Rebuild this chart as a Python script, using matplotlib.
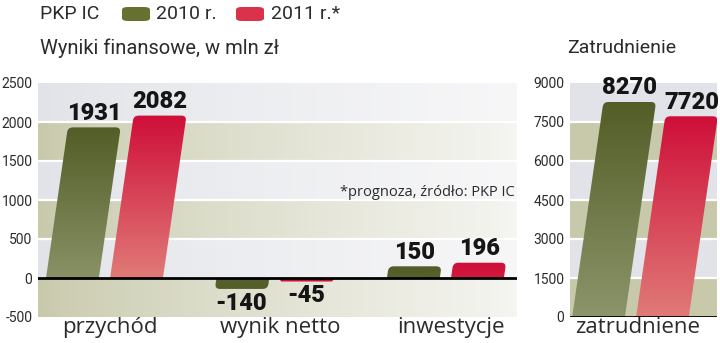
import matplotlib
matplotlib.use("Agg")
import matplotlib.pyplot as plt
import numpy as np
from matplotlib.path import Path
from matplotlib.patches import PathPatch, FancyBboxPatch
from matplotlib.colors import to_rgb

# ── Data ──────────────────────────────────────────────────────────────────────
categories = ["przychód", "wynik netto", "inwestycje"]
fin_2010 = [1931, -140, 150]
fin_2011 = [2082, -45, 196]
fin_ticks = [-500, 0, 500, 1000, 1500, 2000, 2500]

emp_categories = ["zatrudniene"]
emp_2010 = [8270]
emp_2011 = [7720]
emp_ticks = [0, 1500, 3000, 4500, 6000, 7500, 9000]

# ── Style ─────────────────────────────────────────────────────────────────────
LIGHT = ["Roboto", "DejaVu Sans"]
WIDE = ["Open Sans", "DejaVu Sans"]
BOLD = ["Roboto", "DejaVu Sans"]
TXT = "#2b2b2b"
OLIVE_TOP, OLIVE_BOT = "#535d27", "#8c956a"
RED_TOP, RED_BOT = "#cf0f39", "#e07a77"
GREY_L, GREY_R = "#e1e3e8", "#f7f7f8"
BEIGE_L, BEIGE_R = "#c8c9ab", "#f5f5f1"
SLANT = 0.145     # horizontal shift per pixel of bar height
RADIUS = 5.0      # corner rounding in pixels
BAR_W = 0.31
OFFSET = 0.188

fig = plt.figure(figsize=(7.2, 3.43), dpi=100)
ax1 = fig.add_axes([38 / 720, 26 / 343, 479 / 720, 234 / 343])
ax2 = fig.add_axes([570 / 720, 26 / 343, 147 / 720, 234 / 343])


def lerp(c1, c2, t):
    a, b = np.array(to_rgb(c1)), np.array(to_rgb(c2))
    return a + (b - a) * t


def background(ax, ticks, xlim, fade=True):
    ax.set_xlim(*xlim)
    ax.set_ylim(ticks[0], ticks[-1])
    ncol = 300
    t = np.linspace(0, 1, ncol)[:, None] ** 0.8 if fade else np.zeros((ncol, 1))
    rows = []
    for i in range(len(ticks) - 1):
        if i % 2 == 0:
            rows.append(lerp(BEIGE_L, BEIGE_R, t))
        else:
            rows.append(lerp(GREY_L, GREY_R, t))
    img = np.stack(rows, axis=0)
    ax.imshow(img, extent=(xlim[0], xlim[1], ticks[0], ticks[-1]), origin="lower",
              aspect="auto", interpolation="nearest", zorder=0)
    for tk in ticks[1:-1]:
        ax.axhline(tk, color="white", lw=1.6, zorder=1)
    ax.axhline(0, color="black", lw=2, zorder=5)
    ax.set_xlim(*xlim)
    ax.set_ylim(ticks[0], ticks[-1])
    ax.set_yticks(ticks)
    ax.set_yticklabels([str(t) for t in ticks], family=LIGHT, fontsize=10, color=TXT)
    ax.tick_params(length=0, pad=4)
    for s in ax.spines.values():
        s.set_visible(False)


def bar(ax, xc, value, top_col, bot_col):
    to_px = ax.transData.transform
    to_data = ax.transData.inverted().transform
    (x0, yb), = to_px([(xc - BAR_W / 2, 0)])
    (x1, _), = to_px([(xc + BAR_W / 2, 0)])
    (_, yt), = to_px([(xc, value)])
    h = yt - yb
    s = SLANT * h
    r = min(RADIUS, abs(h) / 2)
    sign = 1 if h >= 0 else -1
    L = np.hypot(s, h) if h != 0 else 1
    ex, ey = s / L, h / L
    verts = [
        (x0, yb),
        (x1, yb),
        (x1 + s - ex * r, yt - ey * r),
        (x1 + s, yt),
        (x1 + s - r, yt),
        (x0 + s + r, yt),
        (x0 + s, yt),
        (x0 + s - ex * r, yt - ey * r),
        (x0, yb),
    ]
    codes = [Path.MOVETO, Path.LINETO, Path.LINETO, Path.CURVE3, Path.CURVE3,
             Path.LINETO, Path.CURVE3, Path.CURVE3, Path.CLOSEPOLY]
    path = Path(to_data(verts), codes)
    patch = PathPatch(path, facecolor="none", edgecolor="none", zorder=3)
    ax.add_patch(patch)
    # vertical gradient, darker at the far end
    n = 100
    depth = min(1.0, abs(h) / 160.0)
    t = np.linspace(0, 1, n)[:, None, None]
    grad = lerp(top_col, lerp(top_col, bot_col, depth), t)  # row 0 = far end
    if sign > 0:
        grad = grad[::-1]
    (dx0, dy0), = to_data([(min(x0, x0 + s) - 1, min(yb, yt))])
    (dx1, dy1), = to_data([(max(x1, x1 + s) + 1, max(yb, yt))])
    im = ax.imshow(grad, extent=(dx0, dx1, dy0, dy1), origin="lower", aspect="auto",
                   interpolation="bilinear", zorder=3)
    im.set_clip_path(patch)
    (lx, _), = to_data([((x0 + x1) / 2 + s, yt)])
    ax.annotate(f"{value}", (lx, value), xytext=(0, 2 * sign), textcoords="offset points",
                ha="center", va="bottom" if sign > 0 else "top",
                family=BOLD, fontweight="heavy", fontsize=17, color="#151515",
                zorder=6, annotation_clip=False)


# ── Financial results ─────────────────────────────────────────────────────────
xlim1 = (-0.39, 2.42)
background(ax1, fin_ticks, xlim1)
x = np.arange(len(categories))
for i in range(len(categories)):
    bar(ax1, x[i] - OFFSET, fin_2010[i], OLIVE_TOP, OLIVE_BOT)
    bar(ax1, x[i] + OFFSET, fin_2011[i], RED_TOP, RED_BOT)
ax1.set_xticks(x + 0.03)
ax1.set_xticklabels(categories, family=WIDE, fontsize=16, color=TXT)
ax1.tick_params(axis="x", pad=0)
ax1.set_xlim(*xlim1)
ax1.set_ylim(fin_ticks[0], fin_ticks[-1])
ax1.text(0.995, 0.53, "*prognoza, źródło: PKP IC", transform=ax1.transAxes,
         ha="right", va="center", family=WIDE, fontsize=10.5,
         color=TXT, zorder=6)

# ── Employment ────────────────────────────────────────────────────────────────
xlim2 = (-0.356, 0.509)
background(ax2, emp_ticks, xlim2, fade=False)
bar(ax2, -OFFSET, emp_2010[0], OLIVE_TOP, OLIVE_BOT)
bar(ax2, OFFSET, emp_2011[0], RED_TOP, RED_BOT)
ax2.set_xticks([0.04])
ax2.set_xticklabels(emp_categories, family=WIDE, fontsize=16, color=TXT)
ax2.tick_params(axis="x", pad=0)
ax2.set_xlim(*xlim2)
ax2.set_ylim(emp_ticks[0], emp_ticks[-1])

# ── Titles and legend ─────────────────────────────────────────────────────────
fig.text(40 / 720, 1 - 14 / 343, "PKP IC", family=LIGHT, fontsize=14, color=TXT, va="center")
fig.add_artist(FancyBboxPatch((122 / 720, 1 - 21 / 343), 28 / 720, 14 / 343,
                              boxstyle="round,pad=0,rounding_size=0.008",
                              facecolor="#66702f", edgecolor="none", transform=fig.transFigure))
fig.text(156 / 720, 1 - 14 / 343, "2010 r.", family=LIGHT, fontsize=14, color=TXT, va="center")
fig.add_artist(FancyBboxPatch((236 / 720, 1 - 21 / 343), 28 / 720, 14 / 343,
                              boxstyle="round,pad=0,rounding_size=0.008",
                              facecolor="#d9324a", edgecolor="none", transform=fig.transFigure))
fig.text(271 / 720, 1 - 14 / 343, "2011 r.*", family=LIGHT, fontsize=14, color=TXT, va="center")
fig.text(40 / 720, 1 - 48 / 343, "Wyniki finansowe, w mln zł", family=LIGHT, fontsize=14.5,
         color=TXT, va="center")
fig.text(567 / 720, 1 - 48 / 343, "Zatrudnienie", family=LIGHT, fontsize=14,
         color=TXT, va="center")

fig.savefig("out.png", dpi=100, facecolor="white")
